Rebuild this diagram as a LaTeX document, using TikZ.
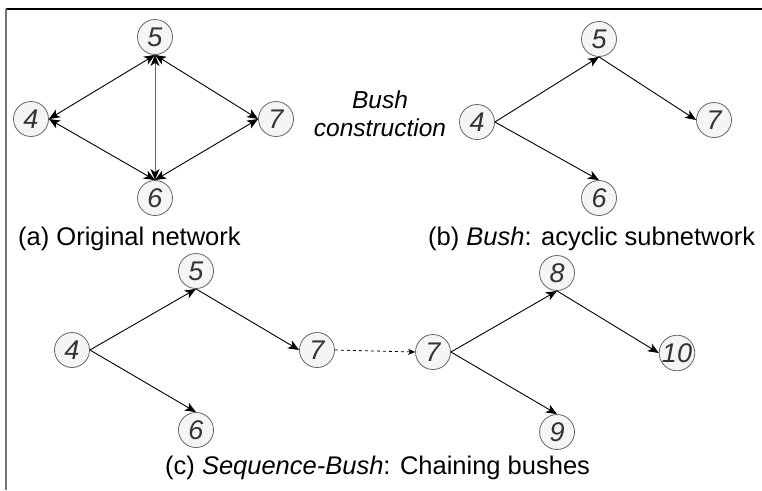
\documentclass[tikz,border=0pt]{standalone}
\usepackage{fontspec}
\setmainfont{Liberation Sans}
\usetikzlibrary{arrows.meta}
\definecolor{vfill}{HTML}{F5F5F5}
\definecolor{vline}{HTML}{666666}
\definecolor{vtext}{HTML}{333333}
\tikzset{
  tip/.tip={Stealth[length=11pt,width=9pt,inset=3pt]},
  darktip/.tip={Stealth[length=11pt,width=9pt,inset=3pt,color=black]},
  smalltip/.tip={Stealth[length=7pt,width=6pt,inset=2pt]},
  vtx/.style={circle, draw=vline, fill=vfill, line width=0.8pt, minimum size=35pt,
    inner sep=0pt, font=\fontsize{27}{30}\selectfont\itshape, text=vtext},
  arc/.style={line width=0.9pt, -tip},
  twoway/.style={line width=0.9pt, tip-tip},
  link/.style={line width=0.8pt, dash pattern=on 3pt off 3pt, -smalltip},
  caption/.style={font=\fontsize{25.5}{28}\selectfont, anchor=base west, inner sep=0pt}
}
\begin{document}
\begin{tikzpicture}[x=1pt,y=-1pt]
\useasboundingbox (0,0) rectangle (762,490);
% frame edges
\draw[line width=1.5pt] (6,9) -- (762,9);
\draw[line width=2pt, black!55] (6,9) -- (6,490);

% (a) original network
\node[vtx] (a5) at (155,37) {5};
\node[vtx] (a4) at (31,119) {4};
\node[vtx] (a7) at (276,119) {7};
\node[vtx] (a6) at (155,198) {6};
\draw[line width=1pt, black!60, darktip-darktip] (a5.south) -- (a6.north);
\draw[twoway] (a4.east) -- (a5.south);
\draw[twoway] (a5.south) -- (a7.west);
\draw[twoway] (a4.east) -- (a6.north);
\draw[twoway] (a6.north) -- (a7.west);
\node[caption] (capa) at (18,245) {(a) Original network};

% construction step
\node[font=\fontsize{24.5}{28}\selectfont\itshape, align=center] (step1) at (380,114) {Bush\\construction};

% (b) bush
\node[vtx] (b5) at (599,39) {5};
\node[vtx] (b4) at (477,122) {4};
\node[vtx] (b7) at (714,120) {7};
\node[vtx] (b6) at (599,198) {6};
\draw[arc] (b4.east) -- (b5.south);
\draw[arc] (b5.south) -- (b7.west);
\draw[arc] (b4.east) -- (b6.north);
\node[caption] (capb) at (428,245) {(b) \textit{Bush}: acyclic subnetwork};

% (c) sequence of bushes
\node[vtx] (c5) at (196,271) {5};
\node[vtx] (c4) at (72,350) {4};
\node[vtx] (c7) at (317,350) {7};
\node[vtx] (c6) at (196,430) {6};
\node[vtx] (d7) at (433,352) {7};
\node[vtx] (d8) at (557,273) {8};
\node[vtx] (d10) at (677,353) {10};
\node[vtx] (d9) at (557,432) {9};
\draw[arc] (c4.east) -- (c5.south);
\draw[arc] (c5.south) -- (c7.west);
\draw[arc] (c4.east) -- (c6.north);
\draw[link] (c7.east) -- (d7.west);
\draw[arc] (d7.east) -- (d8.south);
\draw[arc] (d8.south) -- (d10.west);
\draw[arc] (d7.east) -- (d9.north);
\node[caption] (capc) at (165,474) {(c) \textit{Sequence-Bush}: Chaining bushes};
\end{tikzpicture}
\end{document}
